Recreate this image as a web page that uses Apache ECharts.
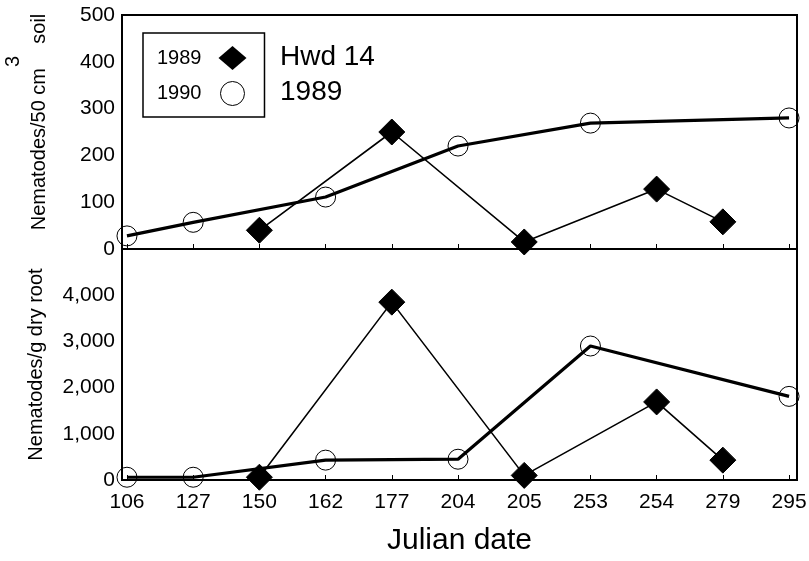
<!DOCTYPE html>
<html>
<head>
<meta charset="utf-8">
<script src="https://cdn.jsdelivr.net/npm/echarts@6/dist/echarts.min.js"></script>
<style>html,body{margin:0;padding:0;background:#fff}#c{width:809px;height:561px}</style>
</head>
<body>
<div id="c"></div>
<script>
var dates = ['106','127','150','162','177','204','205','253','254','279','295'];
var soil1989 = [null, null, 40, null, 250, null, 15, null, 128, 58, null];
var soil1990 = [28, 57, null, 111, null, 220, null, 269, null, null, 280];
var root1989 = [null, null, 60, null, 3850, null, 100, null, 1690, 430, null];
var root1990 = [60, 60, null, 430, null, 450, null, 2900, null, null, 1810];
var soilTicks = [0, 100, 200, 300, 400, 500];
var rootTicks = ['0', '1,000', '2,000', '3,000', '4,000', ''];

function pts(arr) {
  var out = [];
  arr.forEach(function (v, i) { if (v !== null) out.push([i, v]); });
  return out;
}
var idx = dates.map(function (d, i) { return i; });
var FONT = 'Liberation Sans, Arial, sans-serif';

var chart = echarts.init(document.getElementById('c'), null, {renderer: 'canvas'});

function xAxis(gi, showLabels) {
  return {
    type: 'value', gridIndex: gi, min: -0.075, max: 10.12,
    axisLine: {show: false},
    splitLine: {show: false},
    axisTick: {show: true, inside: true, length: 5, customValues: idx, lineStyle: {color: '#000', width: 1}},
    axisLabel: {show: showLabels, customValues: idx, margin: 12, color: '#000', fontFamily: FONT, fontSize: 21,
      formatter: function (v) { return dates[Math.round(v)]; }},
    name: showLabels ? 'Julian date' : '', nameLocation: 'middle', nameGap: 46,
    nameTextStyle: {color: '#000', fontFamily: FONT, fontSize: 30}
  };
}

var lineThin = {color: '#000', width: 1.6};
var lineThick = {color: '#000', width: 3.2};
var diamond = {symbol: 'diamond', symbolSize: [26, 26], itemStyle: {color: '#000', borderColor: '#000'}};
var circle = {symbol: 'circle', symbolSize: 20, itemStyle: {color: 'rgba(0,0,0,0)', borderColor: '#000', borderWidth: 1}};

var option = {
  animation: false,
  backgroundColor: '#fff',
  title: {
    text: 'Hwd 14\n1989', left: 275, top: 35,
    textStyle: {color: '#000', fontFamily: FONT, fontSize: 28, fontWeight: 'normal', lineHeight: 35}
  },
  legend: {
    orient: 'vertical', left: 143, top: 33, align: 'right',
    borderColor: '#000', borderWidth: 1.5, padding: [13, 18, 11, 14],
    itemGap: 11, itemWidth: 28, itemHeight: 24,
    textStyle: {color: '#000', fontFamily: FONT, fontSize: 20, padding: [0, 12, 0, 0]},
    data: [
      {name: '1989', icon: 'diamond', itemStyle: {color: '#000'}},
      {name: '1990', icon: 'circle', itemStyle: {color: '#fff', borderColor: '#000', borderWidth: 1}}
    ]
  },
  grid: [
    {left: 122, right: 12, top: 15, height: 234, show: true, borderColor: '#000', borderWidth: 2, backgroundColor: 'transparent', outerBoundsMode: 'none', containLabel: false},
    {left: 122, right: 12, top: 249, height: 231, show: true, borderColor: '#000', borderWidth: 2, backgroundColor: 'transparent', outerBoundsMode: 'none', containLabel: false}
  ],
  xAxis: [xAxis(0, false), xAxis(1, true)],
  yAxis: [
    {type: 'value', gridIndex: 0, min: 0, max: 500, interval: 100,
      axisLine: {show: false}, splitLine: {show: false},
      axisTick: {show: false},
      axisLabel: {color: '#000', fontFamily: FONT, fontSize: 21, margin: 7},
      name: '{b|Nematodes/50 cm}{s|3}{a|  soil}', nameLocation: 'middle', nameGap: 73,
      nameTextStyle: {color: '#000', fontFamily: FONT, fontSize: 20,
        rich: {a: {fontFamily: FONT, fontSize: 20, color: '#000', lineHeight: 22, verticalAlign: 'bottom'},
               b: {fontFamily: FONT, fontSize: 20, color: '#000', lineHeight: 22, verticalAlign: 'bottom', padding: [0, 0, 0, 20]},
               s: {fontFamily: FONT, fontSize: 20, color: '#000', lineHeight: 22, verticalAlign: 'bottom', padding: [0, 1, 26, 1]}}}
    },
    {type: 'value', gridIndex: 1, min: 0, max: 5000, interval: 1000,
      axisLine: {show: false}, splitLine: {show: false},
      axisTick: {show: false},
      axisLabel: {color: '#000', fontFamily: FONT, fontSize: 21, margin: 7,
        formatter: function (v) { return rootTicks[Math.round(v / 1000)]; }},
      name: 'Nematodes/g dry root', nameLocation: 'middle', nameGap: 76,
      nameTextStyle: {color: '#000', fontFamily: FONT, fontSize: 20}
    }
  ],
  series: [
    Object.assign({name: '1990', type: 'line', xAxisIndex: 0, yAxisIndex: 0, data: pts(soil1990), lineStyle: lineThick, z: 2}, circle),
    Object.assign({name: '1989', type: 'line', xAxisIndex: 0, yAxisIndex: 0, data: pts(soil1989), lineStyle: lineThin, z: 3}, diamond),
    Object.assign({name: '1990', type: 'line', xAxisIndex: 1, yAxisIndex: 1, data: pts(root1990), lineStyle: lineThick, z: 2}, circle),
    Object.assign({name: '1989', type: 'line', xAxisIndex: 1, yAxisIndex: 1, data: pts(root1989), lineStyle: lineThin, z: 3}, diamond)
  ]
};
chart.setOption(option);
</script>
</body>
</html>
